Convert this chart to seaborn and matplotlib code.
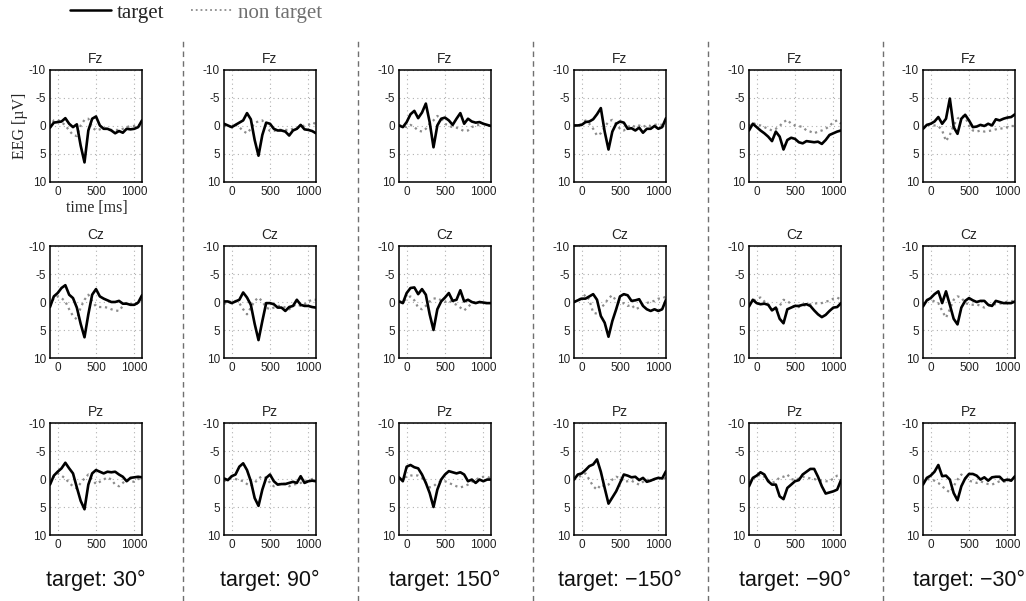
import numpy as np
import pandas as pd
import seaborn as sns
import matplotlib.pyplot as plt
from matplotlib.lines import Line2D

# ---------- data ----------
time_ms = [-100, -50, 0, 50, 100, 150, 200, 250, 300, 350, 400, 450, 500,
           550, 600, 650, 700, 750, 800, 850, 900, 950, 1000, 1050, 1100]

channels = ['Fz', 'Cz', 'Pz']
angles = ['30°', '90°', '150°', '\u2212150°', '\u221290°', '\u221230°']

# one list per target direction (30, 90, 150, -150, -90, -30), values in µV
fz_target = [
    [0.3, -0.6, -0.7, -0.8, -1.4, -0.4, 0.2, -0.3, 3.5, 6.5, 0.8, -1.3, -1.7, -0.1, 0.5, 0.5, 0.8, 1.3, 0.9, 1.2, 0.5, 0.6, 0.5, 0.2, -1.0],
    [-0.4, -0.1, 0.2, -0.2, -0.6, -1.0, -2.3, -1.2, 2.5, 5.3, 1.6, -0.6, -0.4, 0.5, 0.8, 0.8, 1.0, 1.7, 0.8, 0.5, -0.2, 0.6, 0.7, 0.9, 1.3],
    [-0.1, 0.2, -0.7, -2.1, -2.7, -1.4, -2.4, -4.0, -0.7, 3.8, -0.1, -1.3, -1.5, -1.0, -0.2, -1.3, -2.3, -0.4, -1.3, -0.8, -0.6, -0.7, -0.4, -0.2, 0.0],
    [-0.1, -0.1, -0.2, -0.7, -0.8, -1.2, -2.1, -3.2, 1.0, 4.2, 1.0, -0.4, -0.8, -0.6, 0.5, 0.4, 0.8, 0.3, 1.2, 0.5, 0.5, 0.0, 0.5, 0.2, -1.4],
    [0.8, -0.4, 0.2, 0.8, 1.3, 1.9, 2.7, 1.0, 1.9, 4.2, 2.5, 2.1, 2.3, 2.9, 3.1, 2.7, 2.8, 2.9, 2.8, 3.2, 2.5, 1.6, 1.3, 1.0, 0.8],
    [0.5, -0.2, -0.4, -0.8, -1.6, -0.4, -1.3, -4.9, 0.2, 1.4, -1.3, -2.0, -1.0, 0.2, 0.1, -0.2, 0.0, -0.4, -0.1, -1.2, -1.0, -1.3, -1.5, -1.6, -2.1],
]
fz_nontarget = [
    [0.2, -1.0, -1.1, -0.7, -0.1, 0.8, 1.6, 1.8, -0.1, -1.1, -1.3, 0.2, 0.8, 0.6, 0.4, 0.5, 0.7, 0.7, 0.7, 0.5, 0.2, 0.0, 0.0, 0.0, -0.6],
    [-0.1, 0.2, 0.1, -0.2, 0.2, 0.9, 1.3, 0.5, -0.6, -0.8, -1.0, 0.2, 0.9, 0.9, 0.6, 0.7, 0.7, 0.7, 0.5, 0.4, 0.2, -0.1, -0.2, -0.6, -0.4],
    [-0.1, 0.0, 0.2, -0.2, 0.2, 0.8, 1.0, 0.5, -0.4, -1.0, -1.8, -1.3, -0.4, 0.0, 0.2, 0.3, 0.6, 0.9, 0.8, 0.2, -0.1, -0.2, -0.4, -0.1, 0.0],
    [0.0, -0.2, -0.3, -1.0, -0.4, 0.5, 1.7, 1.3, 0.2, -0.8, -1.1, -0.4, 0.5, 0.8, 0.2, -0.2, 0.2, -0.1, 0.2, -0.2, 0.0, -0.2, -0.3, -0.2, -0.4],
    [0.0, -0.6, -0.2, -0.1, 0.2, 0.5, 0.8, 0.5, 0.0, -0.7, -1.1, -0.4, -0.1, 0.0, 0.2, 0.8, 1.0, 1.3, 1.0, 0.8, 0.5, 0.0, -0.7, -1.0, -0.4],
    [0.5, -0.1, -0.2, -0.1, 0.0, 0.8, 2.7, 1.6, -0.1, -1.3, -1.8, -1.6, -0.1, 0.8, 1.0, 0.8, 1.0, 0.9, 0.8, 0.6, 0.4, 0.5, 0.2, 0.0, 0.0],
]
cz_target = [
    [0.9, -1.0, -1.6, -2.5, -3.0, -1.3, -0.7, 1.0, 3.9, 6.3, 2.2, -1.3, -2.3, -1.0, -0.6, -0.3, 0.0, 0.0, -0.2, 0.3, 0.3, 0.5, 0.5, 0.1, -1.2],
    [-0.1, -0.1, 0.2, -0.1, -0.4, -1.7, -0.8, 0.5, 3.9, 6.8, 3.4, 0.2, 0.2, 0.4, 1.0, 1.0, 1.6, 0.9, 0.7, -0.4, 0.5, 0.7, 0.7, 0.9, 1.0],
    [-0.1, 0.2, -1.6, -2.5, -2.6, -1.4, -2.3, -1.3, 2.2, 5.0, 1.3, -0.1, -0.8, -1.6, -0.2, -0.4, -2.1, -0.1, -0.4, 0.0, 0.2, 0.0, 0.1, 0.2, 0.2],
    [0.0, -0.3, -0.6, -0.6, -1.0, -1.4, -0.4, 2.5, 3.7, 6.2, 3.4, 1.3, -1.0, -1.4, -1.2, -0.2, -0.3, -0.5, 0.7, 1.3, 1.6, 1.3, 1.6, 1.3, -0.4],
    [0.8, -0.4, 0.2, 0.4, 0.3, 0.5, 1.5, 1.0, 3.0, 3.8, 1.3, 1.0, 0.7, 0.7, 0.5, 0.4, 0.7, 1.5, 2.2, 2.7, 2.3, 1.6, 1.0, 0.9, 0.2],
    [0.8, -0.3, -0.7, -1.4, -1.9, 0.2, -1.9, 0.5, 3.0, 4.0, 1.0, -0.2, -0.7, -0.3, 0.0, -0.2, -0.2, 0.5, 0.7, -0.2, 0.0, 0.2, 0.2, 0.2, -0.1],
]
cz_nontarget = [
    [0.7, -0.7, -1.0, -0.7, -0.1, 1.3, 2.5, 3.1, 1.0, -0.4, -1.3, -0.2, 0.8, 0.9, 0.9, 1.0, 1.3, 1.5, 1.6, 0.7, 0.1, 0.4, 0.4, 0.3, -0.6],
    [0.4, -0.1, 0.0, -0.2, 0.2, 1.3, 2.2, 1.0, -0.2, -0.8, -0.1, 1.0, 1.3, 1.0, 0.7, 0.7, 1.0, 1.3, 0.7, 0.4, 0.7, 0.4, -0.1, -0.4, -0.4],
    [-0.1, 0.0, -0.6, -1.0, -0.3, 1.0, 1.3, 0.7, -0.1, -0.6, -0.7, -0.3, 0.0, -0.3, 0.2, 0.5, 1.0, 1.5, 0.9, 0.2, 0.0, 0.0, 0.2, 0.2, 0.1],
    [0.1, -0.4, -0.7, -1.3, -0.4, 1.9, 2.1, 1.0, 0.4, -0.7, -1.2, -0.2, 0.4, 0.2, 0.7, 0.5, 1.3, 1.0, 0.4, 0.2, -0.1, -0.2, -0.6, -0.6, -1.0],
    [0.4, -0.1, -0.6, -0.8, -0.1, 0.4, 1.3, 1.6, 0.7, -0.4, -0.2, 0.4, 1.0, 0.9, 0.7, 0.5, 0.4, 0.3, 0.2, 0.2, -0.1, -0.2, -0.6, -0.8, -0.4],
    [0.4, -0.4, -0.4, -0.1, 0.2, 1.6, 2.8, 1.3, -0.4, -1.0, -0.8, 0.2, 0.4, 0.5, 0.4, 0.7, 1.0, 0.7, 0.4, 0.4, 0.3, 0.2, -0.1, -0.1, -0.4],
]
pz_target = [
    [1.0, -0.6, -1.3, -1.9, -2.9, -1.9, -1.0, 1.5, 3.9, 5.4, 1.0, -1.0, -1.6, -1.3, -1.0, -1.3, -1.2, -1.3, -0.8, -0.4, 0.4, -0.2, -0.3, -0.4, -0.3],
    [-0.1, 0.2, -0.5, -0.8, -2.2, -2.8, -1.6, 0.4, 3.4, 4.8, 1.9, -0.2, -0.8, 0.4, 1.0, 0.9, 0.9, 0.7, 0.5, 0.7, -0.5, 0.7, 0.4, 0.3, 0.4],
    [-0.3, 0.4, -2.2, -2.5, -2.1, -1.9, -0.8, 0.7, 2.5, 5.0, 1.9, 0.1, -0.8, -1.4, -1.2, -1.0, -1.2, -0.8, 0.4, 0.1, 0.7, 0.1, 0.4, 0.1, 0.1],
    [0.1, -0.8, -1.0, -1.6, -2.3, -2.6, -3.5, -1.3, 1.6, 4.4, 3.3, 2.2, 0.7, -0.8, -0.6, -0.3, -0.4, 0.2, -0.2, 0.5, 0.3, 0.0, -0.2, -0.1, -1.4],
    [1.3, -0.2, -0.6, -1.2, -0.8, 0.4, 1.0, 1.0, 3.1, 3.6, 1.6, 1.0, 0.4, 0.2, -0.8, -1.3, -1.8, -1.8, -0.4, 1.3, 2.6, 2.4, 2.2, 1.9, 0.2],
    [1.0, -0.2, -0.6, -1.3, -2.5, -0.5, -0.6, 0.1, 2.5, 3.8, 1.3, -0.1, -0.9, -0.9, -0.6, 0.1, -0.3, 0.3, -0.3, -0.4, -0.4, 0.3, 0.1, 0.3, -0.5],
]
pz_nontarget = [
    [0.7, -0.4, -1.0, -0.6, -0.1, 0.7, 1.3, 1.7, 0.7, -0.1, -0.8, 0.1, 0.9, 0.5, 0.1, -0.3, 0.1, 1.0, 1.3, 0.7, 0.1, 0.4, 0.5, 0.0, -0.3],
    [0.4, 0.0, -0.1, 0.0, 0.2, 0.4, 0.9, 1.3, 0.7, -0.1, -0.5, -0.2, 0.7, 1.3, 1.0, 0.7, 0.9, 1.3, 1.0, 0.9, 0.7, 0.4, 0.3, 0.0, -0.3],
    [0.0, -0.2, -0.4, -0.6, -0.7, -0.6, -0.2, 0.7, 1.5, 1.3, 0.7, 0.4, 0.4, 0.7, 1.0, 1.3, 1.5, 1.3, 1.0, 0.5, 0.1, -0.2, -0.4, -0.4, -0.1],
    [0.1, -0.2, -0.7, -1.0, 0.1, 1.3, 1.9, 1.0, 1.3, 1.0, 0.1, -0.4, -0.2, 0.5, 0.4, 0.3, 0.7, 1.0, 0.5, 0.1, 0.3, 0.1, -0.2, 0.0, -0.2],
    [0.7, -0.1, -0.4, -0.8, -0.4, 0.2, 0.7, 0.4, -0.3, -0.4, -0.8, 0.0, 0.2, -0.1, -0.4, -0.3, -0.1, 0.0, 0.2, 0.3, 0.4, 0.4, -0.1, -0.6, -0.7],
    [0.7, 0.0, 0.1, 0.3, 0.7, 1.3, 1.9, 2.4, 1.3, 0.1, -0.8, -0.3, 0.3, 0.5, 0.7, 0.4, 0.7, 0.9, 1.0, 0.7, 0.4, 0.5, 0.4, -0.1, -0.3],
]

target_data = {'Fz': fz_target, 'Cz': cz_target, 'Pz': pz_target}
nontarget_data = {'Fz': fz_nontarget, 'Cz': cz_nontarget, 'Pz': pz_nontarget}

# ---------- style ----------
sns.set_style('white')
plt.rcParams['font.family'] = ['Liberation Sans', 'DejaVu Sans']
plt.rcParams['axes.unicode_minus'] = False

W, H = 1026, 601
fig = plt.figure(figsize=(W / 100, H / 100), dpi=100)

col_left = [50, 224, 399, 574, 749, 923]   # px
row_top = [70, 246, 423]
ax_w, ax_h = 92, 112

for r, ch in enumerate(channels):
    for c in range(len(angles)):
        ax = fig.add_axes([col_left[c] / W, 1 - (row_top[r] + ax_h) / H,
                           ax_w / W, ax_h / H])
        sns.lineplot(x=time_ms, y=nontarget_data[ch][c], ax=ax, color='#8c8c8c',
                     linestyle=':', linewidth=1.6)
        sns.lineplot(x=time_ms, y=target_data[ch][c], ax=ax, color='black',
                     linewidth=1.9)
        ax.set_xlim(-100, 1100)
        ax.set_ylim(10, -10)
        ax.set_xticks([0, 500, 1000])
        ax.set_yticks([-10, -5, 0, 5, 10])
        ax.grid(True, linestyle=(0, (1, 3)), color='#b0b0b0', linewidth=0.8)
        ax.tick_params(labelsize=8.5, length=2, direction='in', pad=3,
                       colors='#222222')
        for s in ax.spines.values():
            s.set_color('black')
            s.set_linewidth(1.1)
        ax.set_xlabel('')
        ax.set_ylabel('')
        ax.set_title(ch, fontsize=10, pad=5)

# axis labels (only on first panel)
fig.text(20 / W, 1 - 126 / H, 'EEG [µV]', rotation=90, ha='center', va='center',
         family='Liberation Serif', fontsize=11.5)
fig.text(97 / W, 1 - 208 / H, 'time [ms]', ha='center', va='center',
         family='Liberation Serif', fontsize=11.5)

# dashed separators between target directions
for x in [183, 358, 533, 708, 883]:
    fig.add_artist(Line2D([x / W, x / W], [0, 1 - 40 / H], transform=fig.transFigure,
                          color='#707070', linestyle=(0, (4, 3)), linewidth=1.0))

# bottom labels
for c, a in enumerate(angles):
    fig.text((col_left[c] + ax_w / 2) / W, 1 - 580 / H, 'target: ' + a,
             ha='center', va='center', fontsize=15.5, color='#111111')

# legend
h_t = Line2D([], [], color='black', linewidth=1.8)
h_n = Line2D([], [], color='#8c8c8c', linestyle=':', linewidth=1.3)
leg = fig.legend([h_t, h_n], ['target', 'non target'], loc='center left',
                 bbox_to_anchor=(70 / W, 1 - 13 / H), ncol=2, frameon=False,
                 prop={'family': 'Liberation Serif', 'size': 15},
                 handlelength=1.95, handletextpad=0.3, columnspacing=1.3,
                 borderaxespad=0, borderpad=0)
leg.get_texts()[1].set_color('#707070')

fig.savefig('out.png', dpi=100)
